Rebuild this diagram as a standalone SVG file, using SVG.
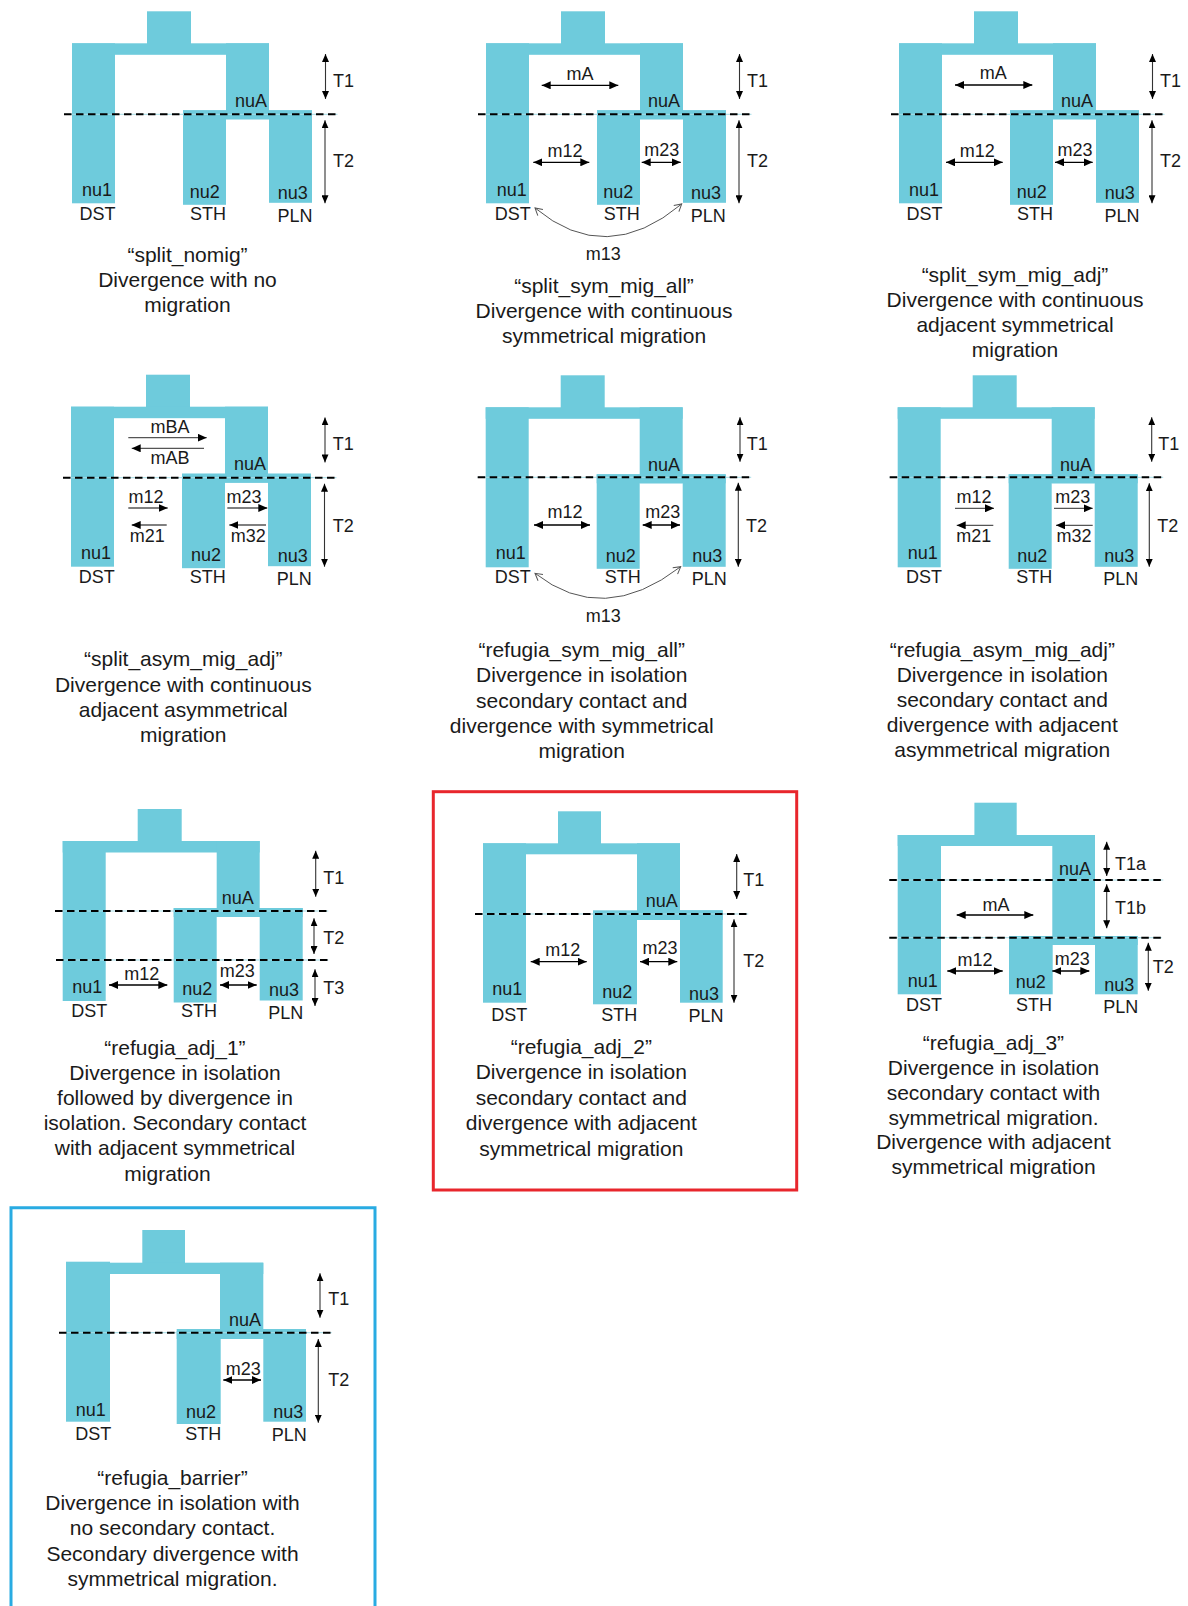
<svg xmlns="http://www.w3.org/2000/svg" width="1188" height="1606" viewBox="0 0 1188 1606">
<style>
.t{fill:#6ECBDC}
text{font-family:"Liberation Sans",Arial,sans-serif;fill:#1a1a1a}
.l{font-size:18px;text-anchor:middle}
.tl{font-size:18px}
.c{font-size:21px;text-anchor:middle}
.d{stroke:#000;stroke-width:2;stroke-dasharray:7.5 4.5;fill:none}
.db{stroke:#a6dde7;stroke-width:1}
.a{stroke:#000;stroke-width:1.3;marker-start:url(#ah);marker-end:url(#ah)}
.ar{stroke:#555;stroke-width:1.3;marker-end:url(#ah)}
.ta{stroke:#333;stroke-width:1.1;marker-start:url(#th);marker-end:url(#th)}
.cv{fill:none;stroke:#555;stroke-width:1;marker-start:url(#oh);marker-end:url(#oh)}
</style>
<defs>
<marker id="ah" viewBox="0 0 9 8" refX="9" refY="4" markerWidth="9" markerHeight="8" markerUnits="userSpaceOnUse" orient="auto-start-reverse"><path d="M0,0L9,4L0,8z" fill="#000"/></marker>
<marker id="th" viewBox="0 0 8 7" refX="8" refY="3.5" markerWidth="8" markerHeight="7" markerUnits="userSpaceOnUse" orient="auto-start-reverse"><path d="M0,0L8,3.5L0,7z" fill="#000"/></marker>
<marker id="oh" viewBox="0 0 9 9" refX="8" refY="4.5" markerWidth="9" markerHeight="9" markerUnits="userSpaceOnUse" orient="auto-start-reverse"><path d="M1,0.5L8,4.5L1,8.5" fill="none" stroke="#555" stroke-width="1"/></marker>
</defs>
<rect width="1188" height="1606" fill="#fff"/>

<!-- Panel 1 -->
<g id="split_nomig">
 <g transform="translate(72,43.3)">
  <g id="p1-tree" class="t">
   <rect x="75" y="-32" width="44" height="33"/><rect x="0" y="0" width="197" height="11.5"/><rect x="0" y="0" width="43" height="160"/><rect x="154" y="0" width="43" height="76"/><rect x="111" y="67" width="129" height="9"/><rect x="111" y="67" width="43" height="94.5"/><rect x="197" y="67" width="43" height="92.5"/>
  </g>
  <g id="p1-connectors">
   <line class="db" x1="-8" y1="71" x2="265.5" y2="71"/><line class="d" x1="-8" y1="71" x2="265.5" y2="71"/>
   <line class="ta" x1="253.5" y1="10.7" x2="253.5" y2="55.7"/><line class="ta" x1="253" y1="77" x2="253" y2="160"/>
  </g>
  <text class="tl" x="261" y="43.3">T1</text><text class="tl" x="261" y="124">T2</text>
  <text class="l" x="179" y="63.5">nuA</text>
  <text class="l" x="25" y="152.7">nu1</text><text class="l" x="132.7" y="154.7">nu2</text><text class="l" x="220.7" y="155.3">nu3</text>
  <text class="l" x="25.5" y="176.7">DST</text><text class="l" x="136" y="176.7">STH</text><text class="l" x="223" y="178.3">PLN</text>
 </g>
 <text class="c" x="187.5" y="262">“split_nomig”</text><text class="c" x="187.5" y="287">Divergence with no</text><text class="c" x="187.5" y="311.5">migration</text>
</g>

<!-- Panel 2 -->
<g id="split_sym_mig_all">
 <g transform="translate(486,43.3)">
  <g id="p2-tree" class="t">
   <rect x="75" y="-32" width="44" height="33"/><rect x="0" y="0" width="197" height="11.5"/><rect x="0" y="0" width="43" height="160"/><rect x="154" y="0" width="43" height="76"/><rect x="111" y="67" width="129" height="9"/><rect x="111" y="67" width="43" height="94.5"/><rect x="197" y="67" width="43" height="92.5"/>
  </g>
  <g id="p2-connectors">
   <line class="db" x1="-8" y1="71" x2="265.5" y2="71"/><line class="d" x1="-8" y1="71" x2="265.5" y2="71"/>
   <line class="ta" x1="253.5" y1="10.7" x2="253.5" y2="55.7"/><line class="ta" x1="253" y1="77" x2="253" y2="160"/>
   <line class="a" x1="55.7" y1="42" x2="132.3" y2="42"/>
   <line class="a" x1="47.3" y1="119" x2="103.3" y2="119"/>
   <line class="a" x1="155.7" y1="119" x2="194.7" y2="119"/>
   <path class="cv" d="M49,164.7Q120,224 195.7,160.7"/>
  </g>
  <text class="tl" x="261" y="43.3">T1</text><text class="tl" x="261" y="124">T2</text>
  <text class="l" x="94" y="36.7">mA</text><text class="l" x="79" y="113.4">m12</text><text class="l" x="175.7" y="112.7">m23</text><text class="l" x="117.3" y="216.7">m13</text>
  <text class="l" x="178" y="63.5">nuA</text>
  <text class="l" x="25.7" y="152.7">nu1</text><text class="l" x="132.3" y="154.7">nu2</text><text class="l" x="220" y="155.3">nu3</text>
  <text class="l" x="26.7" y="176.7">DST</text><text class="l" x="135.7" y="176.7">STH</text><text class="l" x="222.3" y="178.3">PLN</text>
 </g>
 <text class="c" x="604" y="293.3">“split_sym_mig_all”</text><text class="c" x="604" y="318.3">Divergence with continuous</text><text class="c" x="604" y="343.3">symmetrical migration</text>
</g>

<!-- Panel 3 -->
<g id="split_sym_mig_adj">
 <g transform="translate(899,43.3)">
  <g id="p3-tree" class="t">
   <rect x="75" y="-32" width="44" height="33"/><rect x="0" y="0" width="197" height="11.5"/><rect x="0" y="0" width="43" height="160"/><rect x="154" y="0" width="43" height="76"/><rect x="111" y="67" width="129" height="9"/><rect x="111" y="67" width="43" height="94.5"/><rect x="197" y="67" width="43" height="92.5"/>
  </g>
  <g id="p3-connectors">
   <line class="db" x1="-8" y1="71" x2="265.5" y2="71"/><line class="d" x1="-8" y1="71" x2="265.5" y2="71"/>
   <line class="ta" x1="253.5" y1="10.7" x2="253.5" y2="55.7"/><line class="ta" x1="253" y1="77" x2="253" y2="160"/>
   <line class="a" x1="56" y1="41.7" x2="133.3" y2="41.7"/>
   <line class="a" x1="47" y1="119" x2="103.7" y2="119"/>
   <line class="a" x1="156" y1="119" x2="193.7" y2="119"/>
  </g>
  <text class="tl" x="261" y="43.3">T1</text><text class="tl" x="261" y="124">T2</text>
  <text class="l" x="94.3" y="36">mA</text><text class="l" x="78.3" y="113.4">m12</text><text class="l" x="176" y="112.7">m23</text>
  <text class="l" x="178" y="63.5">nuA</text>
  <text class="l" x="25" y="152.7">nu1</text><text class="l" x="132.7" y="154.7">nu2</text><text class="l" x="220.7" y="155.3">nu3</text>
  <text class="l" x="25.5" y="176.7">DST</text><text class="l" x="136" y="176.7">STH</text><text class="l" x="223" y="178.3">PLN</text>
 </g>
 <text class="c" x="1015" y="281.7">“split_sym_mig_adj”</text><text class="c" x="1015" y="306.7">Divergence with continuous</text><text class="c" x="1015" y="331.7">adjacent symmetrical</text><text class="c" x="1015" y="356.5">migration</text>
</g>

<!-- Panel 4 -->
<g id="split_asym_mig_adj">
 <g transform="translate(71,406.7)">
  <g id="p4-tree" class="t">
   <rect x="75" y="-32" width="44" height="33"/><rect x="0" y="0" width="197" height="11.5"/><rect x="0" y="0" width="43" height="160"/><rect x="154" y="0" width="43" height="76"/><rect x="111" y="67" width="129" height="9"/><rect x="111" y="67" width="43" height="94.5"/><rect x="197" y="67" width="43" height="92.5"/>
  </g>
  <g id="p4-connectors">
   <line class="db" x1="-8" y1="71" x2="265.5" y2="71"/><line class="d" x1="-8" y1="71" x2="265.5" y2="71"/>
   <line class="ta" x1="254" y1="10.7" x2="254" y2="55.7"/><line class="ta" x1="253.5" y1="77" x2="253.5" y2="160"/>
   <line class="ar" x1="57.3" y1="31" x2="135.7" y2="31"/>
   <line class="ar" x1="133" y1="41.6" x2="60.7" y2="41.6"/>
   <line class="ar" x1="57.3" y1="101.3" x2="96.7" y2="101.3"/>
   <line class="ar" x1="95.7" y1="118.3" x2="60.7" y2="118.3"/>
   <line class="ar" x1="156.3" y1="101.3" x2="196.3" y2="101.3"/>
   <line class="ar" x1="195" y1="118.3" x2="158.3" y2="118.3"/>
  </g>
  <text class="tl" x="261.7" y="43.3">T1</text><text class="tl" x="261.7" y="125">T2</text>
  <text class="l" x="99" y="26">mBA</text><text class="l" x="99" y="57.3">mAB</text>
  <text class="l" x="75" y="96.6">m12</text><text class="l" x="76.3" y="135">m21</text><text class="l" x="173" y="96.6">m23</text><text class="l" x="177.3" y="135">m32</text>
  <text class="l" x="179" y="63.5">nuA</text>
  <text class="l" x="25" y="152.7">nu1</text><text class="l" x="135" y="154.7">nu2</text><text class="l" x="221.7" y="155.3">nu3</text>
  <text class="l" x="25.7" y="176.7">DST</text><text class="l" x="136.7" y="176.7">STH</text><text class="l" x="223.3" y="178.3">PLN</text>
 </g>
 <text class="c" x="183.3" y="666">“split_asym_mig_adj”</text><text class="c" x="183.3" y="691.5">Divergence with continuous</text><text class="c" x="183.3" y="716.5">adjacent asymmetrical</text><text class="c" x="183.3" y="741.5">migration</text>
</g>

<!-- Panel 5 -->
<g id="refugia_sym_mig_all">
 <g transform="translate(485.7,407.3)">
  <g id="p5-tree" class="t">
   <rect x="75" y="-32" width="44" height="33"/><rect x="0" y="0" width="197" height="11.5"/><rect x="0" y="0" width="43" height="160"/><rect x="154" y="0" width="43" height="76"/><rect x="111" y="67" width="129" height="9"/><rect x="111" y="67" width="43" height="94.5"/><rect x="197" y="67" width="43" height="92.5"/>
  </g>
  <g id="p5-connectors">
   <line class="db" x1="-8" y1="70" x2="265.5" y2="70"/><line class="d" x1="-8" y1="70" x2="265.5" y2="70"/>
   <line class="ta" x1="254.3" y1="10" x2="254.3" y2="54.4"/><line class="ta" x1="252.6" y1="75.4" x2="252.6" y2="159.4"/>
   <line class="a" x1="48.3" y1="117.7" x2="104.3" y2="117.7"/>
   <line class="a" x1="157" y1="117.7" x2="194.3" y2="117.7"/>
   <path class="cv" d="M49.3,166Q117.3,219.3 195,159.4"/>
  </g>
  <text class="tl" x="261" y="42.7">T1</text><text class="tl" x="260.3" y="124.4">T2</text>
  <text class="l" x="79.3" y="111">m12</text><text class="l" x="177" y="111">m23</text><text class="l" x="117.6" y="214.4">m13</text>
  <text class="l" x="178.3" y="63.4">nuA</text>
  <text class="l" x="25" y="152">nu1</text><text class="l" x="135" y="154.4">nu2</text><text class="l" x="221.6" y="154.4">nu3</text>
  <text class="l" x="27" y="176">DST</text><text class="l" x="137" y="176">STH</text><text class="l" x="223.6" y="177.7">PLN</text>
 </g>
 <text class="c" x="581.7" y="657">“refugia_sym_mig_all”</text><text class="c" x="581.7" y="682">Divergence in isolation</text><text class="c" x="581.7" y="707.5">secondary contact and</text><text class="c" x="581.7" y="733">divergence with symmetrical</text><text class="c" x="581.7" y="758">migration</text>
</g>

<!-- Panel 6 -->
<g id="refugia_asym_mig_adj">
 <g transform="translate(897.7,407.3)">
  <g id="p6-tree" class="t">
   <rect x="75" y="-32" width="44" height="33"/><rect x="0" y="0" width="197" height="11.5"/><rect x="0" y="0" width="43" height="160"/><rect x="154" y="0" width="43" height="76"/><rect x="111" y="67" width="129" height="9"/><rect x="111" y="67" width="43" height="94.5"/><rect x="197" y="67" width="43" height="92.5"/>
  </g>
  <g id="p6-connectors">
   <line class="db" x1="-8" y1="70" x2="265.5" y2="70"/><line class="d" x1="-8" y1="70" x2="265.5" y2="70"/>
   <line class="ta" x1="254" y1="10" x2="254" y2="54.4"/><line class="ta" x1="251.6" y1="76" x2="251.6" y2="159.4"/>
   <line class="ar" x1="57.3" y1="101" x2="96.3" y2="101"/>
   <line class="ar" x1="95.6" y1="118" x2="59" y2="118"/>
   <line class="ar" x1="156.3" y1="101" x2="195" y2="101"/>
   <line class="ar" x1="195" y1="118" x2="158.3" y2="118"/>
  </g>
  <text class="tl" x="260.6" y="42.7">T1</text><text class="tl" x="259.6" y="124.4">T2</text>
  <text class="l" x="76.3" y="96">m12</text><text class="l" x="76" y="134.4">m21</text><text class="l" x="175" y="96">m23</text><text class="l" x="176.3" y="134.4">m32</text>
  <text class="l" x="178.3" y="63.4">nuA</text>
  <text class="l" x="25" y="152">nu1</text><text class="l" x="134.6" y="154.4">nu2</text><text class="l" x="221.6" y="154.4">nu3</text>
  <text class="l" x="26.3" y="176">DST</text><text class="l" x="136.6" y="176">STH</text><text class="l" x="223" y="177.7">PLN</text>
 </g>
 <text class="c" x="1002.3" y="656.7">“refugia_asym_mig_adj”</text><text class="c" x="1002.3" y="681.7">Divergence in isolation</text><text class="c" x="1002.3" y="706.7">secondary contact and</text><text class="c" x="1002.3" y="731.7">divergence with adjacent</text><text class="c" x="1002.3" y="756.7">asymmetrical migration</text>
</g>

<!-- Panel 7 -->
<g id="refugia_adj_1">
 <g transform="translate(62.7,841)">
  <g id="p7-tree" class="t">
   <rect x="75" y="-32" width="44" height="33"/><rect x="0" y="0" width="197" height="11.5"/><rect x="0" y="0" width="43" height="160"/><rect x="154" y="0" width="43" height="76"/><rect x="111" y="67" width="129" height="9"/><rect x="111" y="67" width="43" height="94.5"/><rect x="197" y="67" width="43" height="92.5"/>
  </g>
  <g id="p7-connectors">
   <line class="db" x1="-7.7" y1="70" x2="265.6" y2="70"/><line class="d" x1="-7.7" y1="70" x2="265.6" y2="70"/>
   <line class="db" x1="-6.7" y1="119" x2="265.6" y2="119"/><line class="d" x1="-6.7" y1="119" x2="265.6" y2="119"/>
   <line class="ta" x1="253" y1="9.7" x2="253" y2="55.7"/><line class="ta" x1="251.3" y1="77.3" x2="251.3" y2="113"/><line class="ta" x1="252.3" y1="128.3" x2="252.3" y2="165"/>
   <line class="a" x1="46.3" y1="144" x2="104.6" y2="144"/>
   <line class="a" x1="157.3" y1="144" x2="194" y2="144"/>
  </g>
  <text class="tl" x="260.6" y="43">T1</text><text class="tl" x="260.6" y="103">T2</text><text class="tl" x="260.6" y="153">T3</text>
  <text class="l" x="79" y="139">m12</text><text class="l" x="174.6" y="135.7">m23</text>
  <text class="l" x="175" y="63.3">nuA</text>
  <text class="l" x="24.6" y="152.3">nu1</text><text class="l" x="134.6" y="154">nu2</text><text class="l" x="221.3" y="155">nu3</text>
  <text class="l" x="26.6" y="176.3">DST</text><text class="l" x="136.3" y="176.3">STH</text><text class="l" x="223" y="178.3">PLN</text>
 </g>
 <text class="c" x="175" y="1055">“refugia_adj_1”</text><text class="c" x="175" y="1080">Divergence in isolation</text><text class="c" x="175" y="1105">followed by divergence in</text><text class="c" x="175" y="1130">isolation. Secondary contact</text><text class="c" x="175" y="1155">with adjacent symmetrical</text><text class="c" x="167.5" y="1181">migration</text>
</g>

<!-- Panel 8 -->
<g id="refugia_adj_2">
 <rect x="433.3" y="791.7" width="363.4" height="398.3" fill="none" stroke="#E8262C" stroke-width="3"/>
 <g transform="translate(483,843.3)">
  <g id="p8-tree" class="t">
   <rect x="75" y="-32" width="43" height="33"/><rect x="0" y="0" width="197" height="11"/><rect x="0" y="0" width="43" height="159.4"/><rect x="154" y="0" width="43" height="76.7"/><rect x="110" y="67" width="129.7" height="9.7"/><rect x="110" y="68" width="44" height="93"/><rect x="197" y="67" width="42.7" height="92.4"/>
  </g>
  <g id="p8-connectors">
   <line class="db" x1="-8" y1="70.7" x2="265.3" y2="70.7"/><line class="d" x1="-8" y1="70.7" x2="265.3" y2="70.7"/>
   <line class="ta" x1="253.7" y1="10.7" x2="253.7" y2="55.7"/><line class="ta" x1="251" y1="76" x2="251" y2="159.4"/>
   <line class="a" x1="47.7" y1="118.4" x2="103.7" y2="118.4"/>
   <line class="a" x1="157" y1="118.4" x2="194.3" y2="118.4"/>
  </g>
  <text class="tl" x="260.3" y="42.7">T1</text><text class="tl" x="260.3" y="123.4">T2</text>
  <text class="l" x="79.7" y="112.7">m12</text><text class="l" x="177" y="110.7">m23</text>
  <text class="l" x="178.7" y="64">nuA</text>
  <text class="l" x="24.3" y="151.7">nu1</text><text class="l" x="134.3" y="155">nu2</text><text class="l" x="221" y="156.7">nu3</text>
  <text class="l" x="26.3" y="177.4">DST</text><text class="l" x="136.3" y="177.4">STH</text><text class="l" x="223" y="178.4">PLN</text>
 </g>
 <text class="c" x="581.3" y="1054">“refugia_adj_2”</text><text class="c" x="581.3" y="1079.3">Divergence in isolation</text><text class="c" x="581.3" y="1105">secondary contact and</text><text class="c" x="581.3" y="1130">divergence with adjacent</text><text class="c" x="581.3" y="1155.7">symmetrical migration</text>
</g>

<!-- Panel 9 -->
<g id="refugia_adj_3">
 <g transform="translate(897.7,835)">
  <g id="p9-tree" class="t">
   <rect x="76.7" y="-32.3" width="42.3" height="33.3"/><rect x="0" y="0" width="197.3" height="11"/><rect x="0" y="0" width="43.3" height="159.3"/><rect x="154.6" y="0" width="42.7" height="110"/><rect x="111.3" y="101" width="128.7" height="9"/><rect x="111.3" y="101" width="43.7" height="58.3"/><rect x="197.3" y="101" width="42.7" height="58.3"/>
  </g>
  <g id="p9-connectors">
   <line class="db" x1="-8.4" y1="45" x2="265.6" y2="45"/><line class="d" x1="-8.4" y1="45" x2="265.6" y2="45"/>
   <line class="db" x1="-8.4" y1="102.7" x2="264" y2="102.7"/><line class="d" x1="-8.4" y1="102.7" x2="264" y2="102.7"/>
   <line class="ta" x1="209" y1="6.7" x2="209" y2="41"/><line class="ta" x1="209" y1="49.3" x2="209" y2="93.3"/><line class="ta" x1="250.6" y1="107.7" x2="250.6" y2="155.7"/>
   <line class="a" x1="59" y1="80" x2="135.6" y2="80"/>
   <line class="a" x1="49.6" y1="136" x2="105" y2="136"/>
   <line class="a" x1="154.6" y1="136" x2="191.6" y2="136"/>
  </g>
  <text class="tl" x="217.3" y="35">T1a</text><text class="tl" x="217.3" y="79">T1b</text><text class="tl" x="255" y="138.3">T2</text>
  <text class="l" x="98.3" y="75.7">mA</text><text class="l" x="77.3" y="131">m12</text><text class="l" x="174.6" y="130">m23</text>
  <text class="l" x="177.3" y="40">nuA</text>
  <text class="l" x="25" y="151.7">nu1</text><text class="l" x="133" y="153.3">nu2</text><text class="l" x="221.6" y="156">nu3</text>
  <text class="l" x="26.3" y="176">DST</text><text class="l" x="136.3" y="176">STH</text><text class="l" x="223" y="177.7">PLN</text>
 </g>
 <text class="c" x="993.5" y="1050">“refugia_adj_3”</text><text class="c" x="993.5" y="1075">Divergence in isolation</text><text class="c" x="993.5" y="1100">secondary contact with</text><text class="c" x="993.5" y="1124.5">symmetrical migration.</text><text class="c" x="993.5" y="1149">Divergence with adjacent</text><text class="c" x="993.5" y="1174">symmetrical migration</text>
</g>

<!-- Panel 10 -->
<g id="refugia_barrier">
 <path d="M11,1606V1207.7H375V1606" fill="none" stroke="#29ABE2" stroke-width="3"/>
 <g transform="translate(66,1262.7)">
  <g id="p10-tree" class="t">
   <rect x="76.3" y="-32.7" width="42.7" height="33.7"/><rect x="0" y="0" width="197.3" height="11.3"/><rect x="0" y="-1" width="44" height="160"/><rect x="154" y="0" width="43.3" height="76.3"/><rect x="110.7" y="66.3" width="129.3" height="10"/><rect x="110.7" y="68.3" width="44" height="93"/><rect x="197.3" y="66.3" width="42.7" height="92.7"/>
  </g>
  <g id="p10-connectors">
   <line class="db" x1="-7" y1="70" x2="265.7" y2="70"/><line class="d" x1="-7" y1="70" x2="265.7" y2="70"/>
   <line class="ta" x1="254" y1="10.6" x2="254" y2="55"/><line class="ta" x1="252.3" y1="76.3" x2="252.3" y2="160"/>
   <line class="a" x1="157.3" y1="117.3" x2="195" y2="117.3"/>
  </g>
  <text class="tl" x="262.3" y="42.3">T1</text><text class="tl" x="262.3" y="123">T2</text>
  <text class="l" x="177.3" y="112.3">m23</text>
  <text class="l" x="179" y="63.3">nuA</text>
  <text class="l" x="24.7" y="153">nu1</text><text class="l" x="135" y="155">nu2</text><text class="l" x="222.3" y="155.6">nu3</text>
  <text class="l" x="27.3" y="177.3">DST</text><text class="l" x="137.3" y="177.3">STH</text><text class="l" x="223.3" y="178.3">PLN</text>
 </g>
 <text class="c" x="172.5" y="1485">“refugia_barrier”</text><text class="c" x="172.5" y="1510">Divergence in isolation with</text><text class="c" x="172.5" y="1535">no secondary contact.</text><text class="c" x="172.5" y="1561">Secondary divergence with</text><text class="c" x="172.5" y="1586">symmetrical migration.</text>
</g>
</svg>
